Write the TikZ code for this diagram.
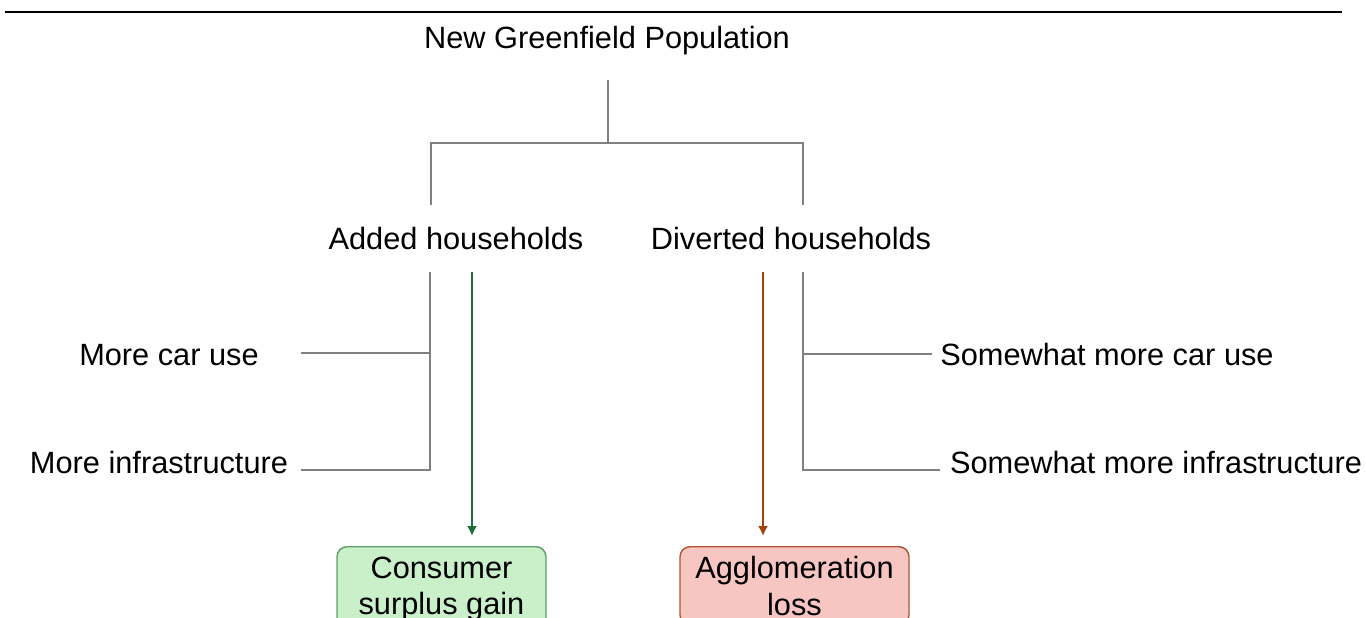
\documentclass[tikz,border=0pt]{standalone}
\usepackage{fontspec}
\setmainfont{Liberation Sans}
\usepackage{xcolor}
\usetikzlibrary{arrows.meta}
\definecolor{treegray}{HTML}{808080}
\definecolor{gainline}{HTML}{1E6B35}
\definecolor{gainfill}{HTML}{C9F0C9}
\definecolor{gainedge}{HTML}{5E9E6A}
\definecolor{lossline}{HTML}{A0420F}
\definecolor{lossfill}{HTML}{F7C6C2}
\definecolor{lossedge}{HTML}{B0552E}

\begin{document}
\begin{tikzpicture}[x=0.02cm, y=-0.02cm,
  every node/.style={font=\fontsize{17.5}{20.5}\selectfont},
  txt/.style={inner sep=0pt, minimum height=1.36cm},
  tree/.style={treegray, line width=1.1pt},
  outcome/.style={draw, rounded corners=0.2cm, line width=0.8pt, align=center, anchor=north, inner xsep=0pt, inner ysep=0.2cm},
  arr/.style={line width=1.1pt, -{Latex[length=0.2cm, width=0.2cm]}, shorten >=0.2cm}]
\useasboundingbox (0,0) rectangle (1366,618);
\clip (0,0) rectangle (1366,618);
\draw[line width=1.2pt] (5,12) -- (1342,12);

% top of the tree
\node[txt, minimum height=1.56cm] (pop) at (607,41) {New Greenfield Population};
\node[txt] (added) at (456,239) {Added households};
\node[txt] (diverted) at (791,239) {Diverted households};
\coordinate (fork) at (608,143);
\coordinate (addtop) at (431,205);
\coordinate (divtop) at (803,205);
\draw[tree] (pop.south -| fork) -- (fork);
\draw[tree] (addtop) |- (fork) -| (divtop);

% left side
\node[txt] (car) at (169,355) {More car use};
\node[txt] (infra) at (159,463) {More infrastructure};
\coordinate (lspine) at (430,272);
\coordinate (lcar) at (430,353);
\coordinate (lcarend) at (301,353);
\coordinate (linfend) at (301,470);
\draw[tree] (lspine) |- (linfend);
\draw[tree] (lcar) -- (lcarend);

% right side
\node[txt] (scar) at (1107,355) {Somewhat more car use};
\node[txt] (sinfra) at (1156,463) {Somewhat more infrastructure};
\coordinate (rspine) at (803,272);
\coordinate (rcar) at (803,354);
\coordinate (rcarend) at (932,354);
\coordinate (rinfend) at (940,470);
\draw[tree] (rspine) |- (rinfend);
\draw[tree] (rcar) -- (rcarend);

% outcomes
\node[outcome, fill=gainfill, draw=gainedge, minimum width=4.18cm] (gain) at (441.5,546) {Consumer\\surplus gain};
\node[outcome, fill=lossfill, draw=lossedge, minimum width=4.58cm] (loss) at (794.5,546) {Agglomeration\\loss};
\coordinate (gstart) at (472,272);
\coordinate (lstart) at (763,272);
\draw[arr, gainline] (gstart) -- (gstart |- gain.north);
\draw[arr, lossline] (lstart) -- (lstart |- loss.north);
\end{tikzpicture}
\end{document}
